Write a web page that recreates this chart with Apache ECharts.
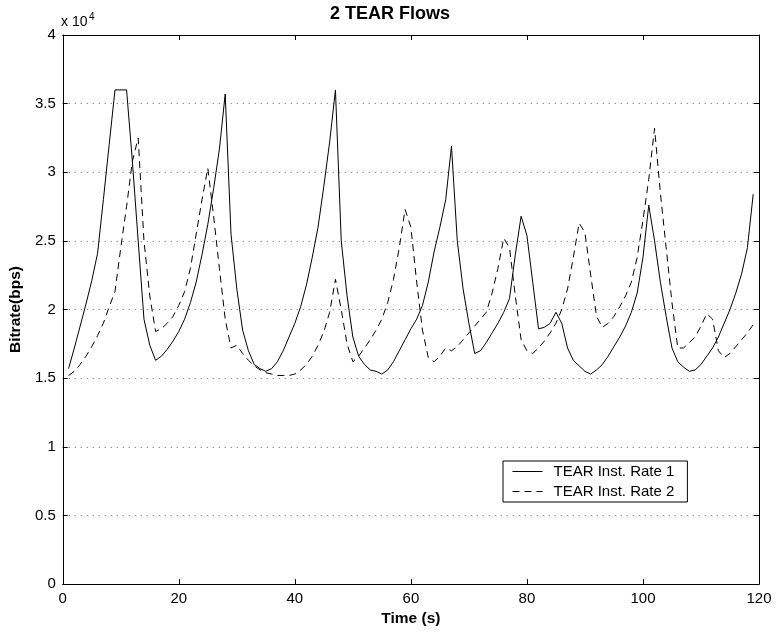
<!DOCTYPE html>
<html>
<head>
<meta charset="utf-8">
<script src="https://cdn.jsdelivr.net/npm/echarts@6/dist/echarts.min.js"></script>
<style>
html,body{margin:0;padding:0;background:#fff;}
#chart{width:778px;height:632px;}
</style>
</head>
<body>
<div id="chart"></div>
<script>
// Data (time in s, bitrate in bps)
const time1 = [1,2,3,4,5,6,7,8,9,11,12,13,14,15,16,17,18,19,20,21,22,23,24,25,26,27,28,29,30,31,32,33,34,35,36,37,38,39,40,41,42,43,44,45,46,47,48,49,50,51,52,53,54,55,56,57,58,59,60,61,62,63,64,65,66,67,68,69,70,71,72,73,74,75,76,77,78,79,80,81,82,83,84,85,86,87,88,89,90,91,92,93,94,95,96,97,98,99,100,101,102,103,104,105,106,107,108,109,110,111,112,113,114,115,116,117,118,119];
const rate1 = [15700,17200,18800,20400,22100,24100,28000,32000,36000,36000,30800,25000,19300,17400,16300,16600,17100,17700,18400,19300,20500,22000,24000,26200,28800,31700,35700,25500,21500,18500,17000,16000,15700,15500,15700,16200,17000,18000,19000,20200,21800,23800,26000,29000,32200,36000,25000,21000,18000,16600,16000,15600,15500,15300,15600,16200,17000,17800,18600,19300,20300,22000,24200,26000,28000,31900,25000,21500,19000,16800,17000,17600,18300,19000,19800,20800,24000,26800,25400,22000,18600,18700,19000,19800,19000,17200,16300,15900,15500,15300,15600,16000,16600,17300,18000,18800,19800,21200,23800,27600,25000,22000,19500,17200,16200,15800,15500,15600,16000,16600,17200,18000,19000,20000,21200,22600,24500,28400];
const time2 = [1,2,3,4,5,6,7,8,9,10,11,12,13,14,15,16,17,18,19,20,21,22,23,24,25,26,27,28,29,30,31,32,33,34,35,36,37,38,39,40,41,42,43,44,45,46,47,48,49,50,51,52,53,54,55,56,57,58,59,60,61,62,63,64,65,66,67,68,69,70,71,72,73,74,75,76,77,78,79,80,81,82,83,84,85,86,87,88,89,90,91,92,93,94,95,96,97,98,99,100,101,102,103,104,105,106,107,108,109,110,111,112,113,114,115,116,117,118,119];
const rate2 = [15200,15500,16000,16600,17300,18100,19000,20200,21300,24500,27500,30800,32500,25000,21000,18400,18600,19000,19500,20300,21300,23000,25500,28000,30300,26800,23000,19300,17200,17400,16800,16300,15900,15600,15400,15300,15200,15200,15200,15300,15600,16000,16600,17400,18400,19800,22200,20000,17500,16200,16600,17200,17800,18500,19300,20500,22200,24500,27300,26000,22000,18500,16500,16200,16600,17200,17000,17300,17800,18300,18800,19300,19800,21200,23000,25200,24500,21000,17800,17000,16800,17200,17700,18300,19000,20000,21500,23800,26300,25600,22500,19500,18700,19000,19500,20200,21000,22000,23800,26500,29500,33200,28500,24500,20500,17200,17200,17600,18000,18800,19700,19300,17000,16500,16800,17300,17800,18300,18900];
const xTicks = {min: 0, max: 120, step: 20};
const yTicks = {min: 0, max: 40000, step: 5000};
const seriesNames = ['TEAR Inst. Rate 1', 'TEAR Inst. Rate 2'];

const FONT = '"Liberation Sans", Arial, Helvetica, sans-serif';
const chart = echarts.init(document.getElementById('chart'), null, {renderer: 'canvas'});
const zip = (t, v) => t.map((x, i) => [x, v[i]]);

const axisCommon = () => ({
  axisLine: {show: true, onZero: false, lineStyle: {color: '#000', width: 1}},
  axisTick: {show: true, inside: true, length: 5, lineStyle: {color: '#000'}},
});

chart.setOption({
  animation: false,
  backgroundColor: '#fff',
  grid: {left: 61, right: 19, top: 35, bottom: 45, containLabel: false},
  graphic: [
    {type: 'text', left: 410 - 80, top: 5, style: {text: '2 TEAR Flows', font: 'bold 18px ' + FONT, fill: '#000', width: 160, align: 'center'}},
    {type: 'text', left: 61, top: 15, style: {text: 'x 10', font: '14px ' + FONT, fill: '#000'}},
    {type: 'text', left: 89, top: 12, style: {text: '4', font: '10px ' + FONT, fill: '#000'}}
  ],
  legend: {
    orient: 'vertical', left: 503, top: 461,
    data: seriesNames,
    itemWidth: 30, itemHeight: 14, itemGap: 5,
    padding: [3, 13, 3, 9],
    borderColor: '#000', borderWidth: 1, backgroundColor: '#fff',
    itemStyle: {opacity: 0},
    lineStyle: {width: 1},
    textStyle: {fontFamily: FONT, fontSize: 15, color: '#000', padding: [0, 0, 0, 6]}
  },
  xAxis: [
    Object.assign({type: 'value', min: xTicks.min, max: xTicks.max, interval: xTicks.step, position: 'bottom',
      name: 'Time (s)', nameLocation: 'middle', nameGap: 24,
      nameTextStyle: {fontFamily: FONT, fontSize: 15.5, fontWeight: 'bold', color: '#000'},
      axisLabel: {fontFamily: FONT, fontSize: 15, color: '#000', margin: 7},
      splitLine: {show: false}}, axisCommon()),
    Object.assign({type: 'value', min: xTicks.min, max: xTicks.max, interval: xTicks.step, position: 'top',
      axisLabel: {show: false}, splitLine: {show: false}}, axisCommon())
  ],
  yAxis: [
    Object.assign({type: 'value', min: yTicks.min, max: yTicks.max, interval: yTicks.step, position: 'left',
      name: 'Bitrate(bps)', nameLocation: 'middle', nameGap: 23, nameRotate: 90,
      nameTextStyle: {fontFamily: FONT, fontSize: 15.5, fontWeight: 'bold', color: '#000'},
      axisLabel: {fontFamily: FONT, fontSize: 15, color: '#000', margin: 7, formatter: v => String(v / 10000)},
      splitLine: {show: true, lineStyle: {color: '#000', type: [1, 5], width: 1, opacity: 0.6}}}, axisCommon()),
    Object.assign({type: 'value', min: yTicks.min, max: yTicks.max, interval: yTicks.step, position: 'right',
      axisLabel: {show: false}, splitLine: {show: false}}, axisCommon())
  ],
  series: [
    {name: seriesNames[0], type: 'line', data: zip(time1, rate1), symbol: 'none',
      lineStyle: {color: '#000', width: 1, type: 'solid'}, itemStyle: {color: '#000'}},
    {name: seriesNames[1], type: 'line', data: zip(time2, rate2), symbol: 'none',
      lineStyle: {color: '#000', width: 1, type: [7, 5]}, itemStyle: {color: '#000'}}
  ]
});
</script>
</body>
</html>
